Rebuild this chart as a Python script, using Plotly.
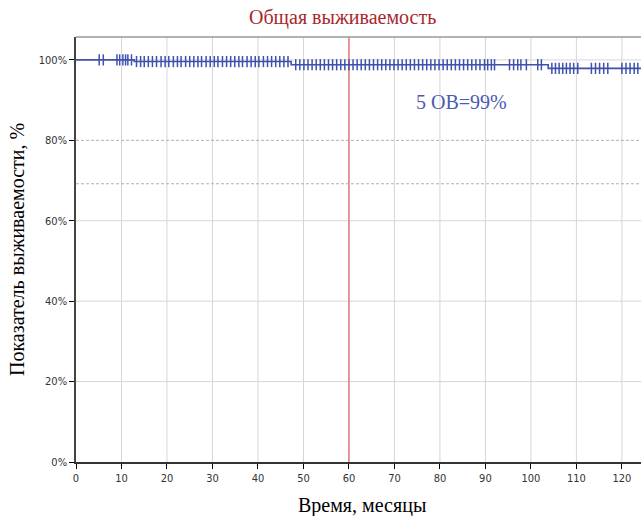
import plotly.graph_objects as go

# Kaplan-Meier step curve (time in months, survival in %)
step_times = [0, 12.8, 47.3, 103.8, 124.2]
step_surv = [100.0, 99.6, 98.8, 97.9, 97.9]

# censored observations (time, months)
censor_times = [5.1, 6.0, 9.0, 9.6, 10.3, 10.9, 11.4, 12.2,
                13.3, 14.2, 15.0, 15.9, 16.8, 17.7, 18.7, 19.6, 20.4, 21.4, 22.3, 23.1,
                24.1, 25.0, 25.9, 26.8, 27.6, 28.6, 29.5, 30.4, 31.2, 32.2, 33.1, 34.0,
                34.9, 35.8, 36.6, 37.6, 38.5, 39.4, 40.2, 41.2, 42.1, 43.0, 43.9, 44.8,
                45.7, 46.6,
                48.3, 49.2, 50.1, 51.0, 51.9, 52.8, 53.7, 54.6, 55.5, 56.4, 57.3, 58.2,
                59.1, 60.0, 60.9, 61.8, 62.7, 63.6, 64.5, 65.4, 66.3, 67.2, 68.1, 69.0,
                69.9, 70.8, 71.7, 72.6, 73.5, 74.4, 75.3, 76.2, 77.1, 78.0, 78.9, 79.8,
                80.7, 81.6, 82.5, 83.4, 84.3, 85.2, 86.1, 87.0, 87.9, 88.8, 89.8, 90.5,
                91.3, 92.0,
                95.3, 96.2, 97.1, 97.8, 99.0, 101.5, 102.3,
                104.6, 105.4, 106.2, 107.0, 107.8, 108.6, 109.4, 110.3,
                113.3, 114.2, 115.1, 116.0, 116.9,
                120.0, 120.9, 121.8, 122.7, 123.5]

x_ticks = [0, 10, 20, 30, 40, 50, 60, 70, 80, 90, 100, 110, 120]
y_ticks = [0, 20, 40, 60, 80, 100]
y_tick_labels = ["0%", "20%", "40%", "60%", "80%", "100%"]
solid_grid_levels = [20, 40, 60, 100]
dashed_ref_levels = [80, 69.2]
marker_time = 60
label_text = "5 ОВ=99%"
label_pos = (84.7, 89.5)

def surv_at(t):
    s = step_surv[0]
    for tt, ss in zip(step_times, step_surv):
        if t >= tt:
            s = ss
    return s

censor_surv = [surv_at(t) for t in censor_times]

curve_color = "#3f51ad"
serif = "Liberation Serif, Times New Roman, serif"
tickfont = dict(family="Liberation Sans Narrow, DejaVu Sans Condensed, Liberation Sans, sans-serif",
                size=11, color="#333333")

fig = go.Figure()
fig.add_trace(go.Scatter(x=step_times, y=step_surv, mode="lines",
                         line=dict(color=curve_color, width=1.6, shape="hv"),
                         showlegend=False, hoverinfo="skip"))
fig.add_trace(go.Scatter(x=censor_times, y=censor_surv, mode="markers",
                         marker=dict(symbol="line-ns", size=8,
                                     line=dict(color=curve_color, width=1.5)),
                         showlegend=False, hoverinfo="skip"))

shapes = []
for xv in x_ticks[1:]:
    shapes.append(dict(type="line", xref="x", yref="paper", x0=xv, x1=xv, y0=0, y1=1,
                       line=dict(color="#d6d6d6", width=1), layer="below"))
for lv in solid_grid_levels:
    shapes.append(dict(type="line", xref="paper", yref="y", x0=0, x1=1, y0=lv, y1=lv,
                       line=dict(color="#d6d6d6", width=1), layer="below"))
for lv in dashed_ref_levels:
    shapes.append(dict(type="line", xref="paper", yref="y", x0=0, x1=1, y0=lv, y1=lv,
                       line=dict(color="#b0b0b0", width=1, dash="3px,2px"), layer="below"))
shapes.append(dict(type="line", xref="x", yref="paper", x0=marker_time, x1=marker_time,
                   y0=0, y1=1, line=dict(color="#e8797b", width=1.5), layer="below"))
shapes.append(dict(type="line", xref="paper", yref="paper", x0=0, x1=1, y0=1, y1=1,
                   line=dict(color="#999999", width=1.5)))

fig.update_layout(
    width=641, height=516,
    margin=dict(l=76, r=0, t=37, b=54, autoexpand=False),
    paper_bgcolor="white", plot_bgcolor="white",
    shapes=shapes,
    annotations=[
        dict(text="Общая выживаемость", xref="paper", yref="paper",
             x=(342 - 76) / (641 - 76), y=1, yshift=6, yanchor="bottom", showarrow=False,
             font=dict(family=serif, size=20, color="#a8282e")),
        dict(text=label_text, x=label_pos[0], y=label_pos[1], xref="x", yref="y",
             showarrow=False, font=dict(family=serif, size=20, color="#4a5ab2")),
        dict(text="Время, месяцы", xref="paper", yref="paper",
             x=(362 - 76) / (641 - 76), y=0, yshift=-43, yanchor="middle", showarrow=False,
             font=dict(family=serif, size=20, color="#000")),
        dict(text="Показатель выживаемости, %", xref="paper", yref="paper",
             x=0, xshift=-59, y=(462 - 250) / (462 - 37), textangle=-90,
             xanchor="center", showarrow=False,
             font=dict(family=serif, size=20, color="#000")),
    ],
    xaxis=dict(range=[0, 124.2], tickvals=x_ticks, ticks="outside", ticklen=5,
               tickcolor="#000", tickwidth=1, showgrid=False,
               showline=True, linecolor="#333333", linewidth=1.5,
               zeroline=False, tickfont=tickfont, automargin=False),
    yaxis=dict(range=[0, 105.7], tickvals=y_ticks, ticktext=y_tick_labels,
               ticks="outside", ticklen=5, tickcolor="#000", tickwidth=1,
               showgrid=False, showline=True, linecolor="#444444", linewidth=1.5,
               zeroline=False, tickfont=tickfont, automargin=False),
)

fig.write_html("out.html", config={"displayModeBar": False},
               post_script="document.body.style.margin='0';document.body.style.overflow='hidden';")
